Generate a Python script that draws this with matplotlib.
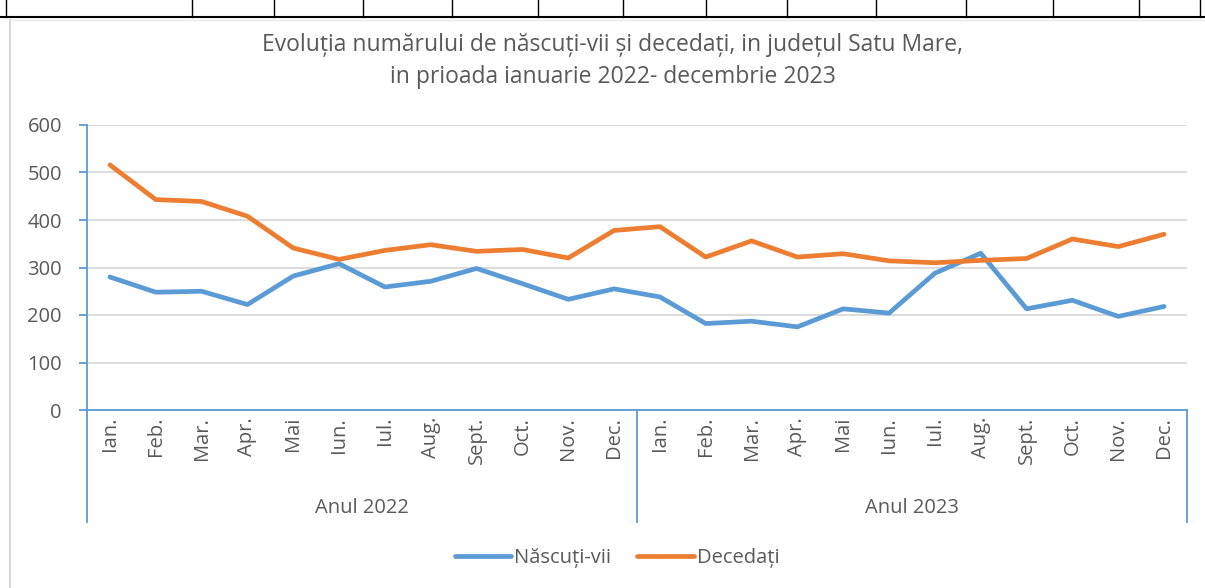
import matplotlib
matplotlib.use("Agg")
import matplotlib.pyplot as plt
from matplotlib.lines import Line2D

plt.rcParams['font.family'] = ['Open Sans', 'DejaVu Sans']

months = ["Ian.", "Feb.", "Mar.", "Apr.", "Mai", "Iun.", "Iul.", "Aug.",
          "Sept.", "Oct.", "Nov.", "Dec."]
years = ["Anul 2022", "Anul 2023"]
nascuti = [280, 248, 250, 222, 282, 308, 259, 271, 298, 266, 233, 255,
           238, 182, 187, 175, 213, 204, 288, 330, 213, 231, 197, 218]
decedati = [516, 443, 439, 408, 341, 317, 336, 348, 334, 338, 320, 378,
            386, 322, 356, 322, 329, 314, 310, 315, 319, 360, 344, 370]
yticks = [0, 100, 200, 300, 400, 500, 600]
title = "Evoluția numărului de născuți-vii și decedați, in județul Satu Mare,\nin prioada ianuarie 2022- decembrie 2023"

BLUE = "#5B9BD5"
ORANGE = "#ED7D31"
TXT = "#595959"
AX = "#5B9BD5"
FS = 14.5

W, H = 1205, 588
fig = plt.figure(figsize=(W / 100, H / 100), dpi=100)

def fx(px):
    return px / W

def fy(py):
    return 1 - py / H

ax = fig.add_axes([fx(87), fy(410), fx(1187) - fx(87), fy(125) - fy(410)])
n = len(nascuti)
x = list(range(n))
ax.plot(x, nascuti, color=BLUE, lw=3.4, solid_capstyle='round', solid_joinstyle='round', label="Născuți-vii", zorder=3)
ax.plot(x, decedati, color=ORANGE, lw=3.4, solid_capstyle='round', solid_joinstyle='round', label="Decedați", zorder=3)
ax.set_xlim(-0.5, n - 0.5)
ax.set_ylim(0, 600)
ax.set_yticks(yticks)
ax.set_yticklabels([str(v) for v in yticks], fontsize=FS, color=TXT)
ax.yaxis.grid(True, color="#D9D9D9", lw=1.3)
ax.set_axisbelow(True)
for s in ["top", "right"]:
    ax.spines[s].set_visible(False)
ax.spines["left"].set_color(AX)
ax.spines["bottom"].set_color(AX)
ax.spines["left"].set_linewidth(1.3)
ax.spines["bottom"].set_linewidth(1.3)
ax.tick_params(axis='y', length=6, color=AX, width=1.3, pad=12)
ax.set_xticks(x)
ax.set_xticklabels(months * len(years), rotation=90, fontsize=FS, color=TXT)
ax.tick_params(axis='x', length=0, pad=5)

# group separators and year labels
trans = ax.get_xaxis_transform()
for k in range(len(years) + 1):
    xb = k * 12 - 0.5
    ax.add_line(Line2D([xb, xb], [0, -(522 - 410) / 285], transform=trans, color=AX, lw=1.3, clip_on=False))
for k, yl in enumerate(years):
    ax.text(k * 12 + 5.5, -(508 - 410) / 285, yl, transform=trans, ha='center', va='center',
            fontsize=FS, color=TXT)
# left extension of bottom axis
ax.add_line(Line2D([fx(80), fx(87)], [fy(410), fy(410)], transform=fig.transFigure, color=AX, lw=1.3))

fig.text(fx(613), fy(61), title, ha='center', va='center', fontsize=16.5, color=TXT, linespacing=1.4)

leg = fig.legend(loc='center', bbox_to_anchor=(fx(617), fy(558)), ncol=2, frameon=False,
                 fontsize=FS, handlelength=2.8, handletextpad=0.15, columnspacing=1.3)
for t in leg.get_texts():
    t.set_color(TXT)

# surrounding document decorations
fig.add_artist(Line2D([0, 1], [fy(17), fy(17)], transform=fig.transFigure, color="black", lw=1.5))
for vx in [6, 192, 274, 363, 452, 538, 623, 706, 787, 876, 966, 1053, 1139, 1200]:
    fig.add_artist(Line2D([fx(vx), fx(vx)], [fy(0), fy(17)], transform=fig.transFigure, color="black", lw=1.0))
fig.add_artist(Line2D([fx(10), fx(10)], [fy(20), 0], transform=fig.transFigure, color="#D9D9D9", lw=1.5))
fig.add_artist(Line2D([fx(10), 1], [fy(20), fy(20)], transform=fig.transFigure, color="#E8E8E8", lw=1.0))

fig.savefig("out.png", dpi=100)
